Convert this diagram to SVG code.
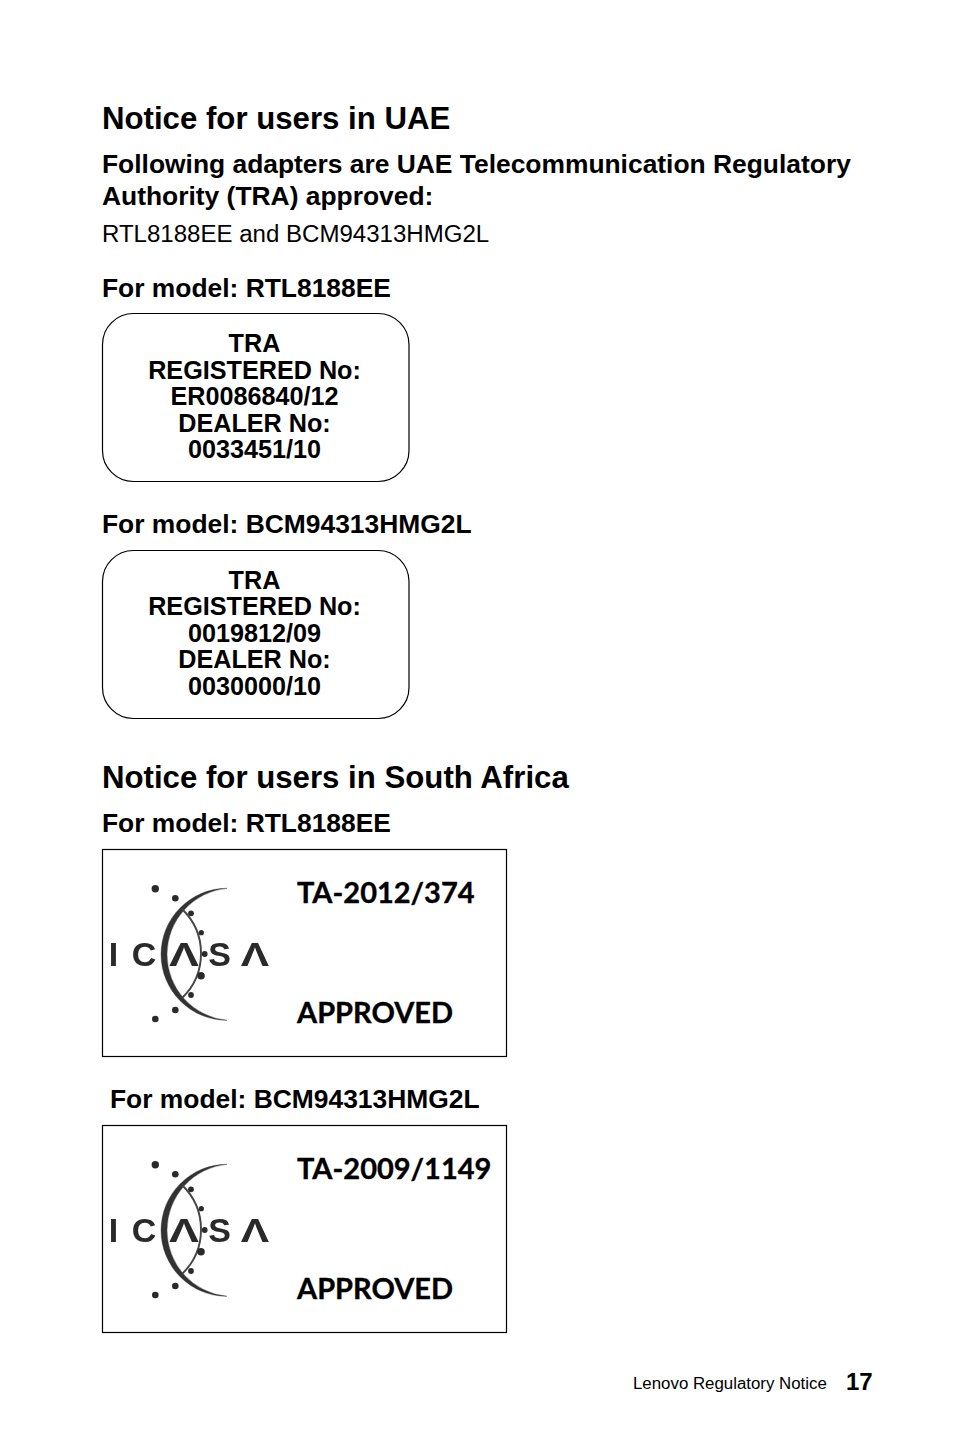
<svg xmlns="http://www.w3.org/2000/svg" width="954" height="1452" viewBox="0 0 954 1452">
<style>
text{font-family:"Liberation Sans",Arial,sans-serif;fill:#000}
.h1{font-size:31.2px;font-weight:700}
.h2{font-size:26.4px;font-weight:700}
.body{font-size:24.05px}
.lab{font-size:25.2px;font-weight:700;text-anchor:middle}
.card{fill:#fff;stroke:#000;stroke-width:1.2}
.ta{font-family:Lato,"Open Sans",sans-serif;font-size:29px;font-weight:700;stroke:#000;stroke-width:.35}
.logo{font-size:34px;font-weight:700;fill:#2b2b2b;text-anchor:middle}
.dot{fill:#2b2b2b}
.thin{fill:none;stroke:#444;stroke-width:1.9}
</style>
<defs>
<filter id="soft" x="-5%" y="-5%" width="110%" height="110%"><feGaussianBlur stdDeviation="0.45"/></filter>
<g id="icasa" filter="url(#soft)">
<text class="logo" x="113.500" y="115.500">I</text>
<text class="logo" x="144" y="115.500">C</text>
<text class="logo" transform="translate(184 115.500) scale(1.32 1)">Λ</text>
<text class="logo" x="219.500" y="115.500">S</text>
<text class="logo" transform="translate(255 115.500) scale(1.25 1)">Λ</text>
<path d="M227 38.300A66 66 0 0 0 227 170.300A66.300 66.300 0 0 1 227 38.300Z" fill="#333" stroke="#333" stroke-width=".4"/>
<path class="thin" d="M182 59A61.600 61.600 0 0 1 182 148"/>
<circle class="dot" cx="155.300" cy="38.700" r="3.700"/>
<circle class="dot" cx="175.300" cy="48.300" r="3.300"/>
<circle class="dot" cx="191" cy="63.300" r="2.900"/>
<circle class="dot" cx="201.300" cy="82.700" r="2.600"/>
<circle class="dot" cx="204.700" cy="104" r="2.900"/>
<circle class="dot" cx="201" cy="125.700" r="3.800"/>
<circle class="dot" cx="191" cy="145" r="2.900"/>
<circle class="dot" cx="175.300" cy="160" r="3.300"/>
<circle class="dot" cx="155.300" cy="169" r="3.300"/>
</g>
</defs>
<rect width="954" height="1452" fill="#fff"/>
<g id="uae-heading">
<text class="h1" x="102" y="129">Notice for users in UAE</text>
<text class="h2" x="102" y="173">Following adapters are UAE Telecommunication Regulatory</text>
<text class="h2" x="102" y="205">Authority (TRA) approved:</text>
<text class="body" x="102" y="242">RTL8188EE and BCM94313HMG2L</text>
</g>
<text class="h2" x="102" y="297">For model: RTL8188EE</text>
<g id="tra-rtl">
<rect class="card" x="102.500" y="313.500" width="306.500" height="168" rx="31"/>
<text class="lab" x="254.500" y="352">TRA</text>
<text class="lab" x="254.500" y="379">REGISTERED No:</text>
<text class="lab" x="254.500" y="405">ER0086840/12</text>
<text class="lab" x="254.500" y="432">DEALER No:</text>
<text class="lab" x="254.500" y="458">0033451/10</text>
</g>
<text class="h2" x="102" y="533">For model: BCM94313HMG2L</text>
<g id="tra-bcm">
<rect class="card" x="102.500" y="550.500" width="306.500" height="168" rx="31"/>
<text class="lab" x="254.500" y="589">TRA</text>
<text class="lab" x="254.500" y="615">REGISTERED No:</text>
<text class="lab" x="254.500" y="642">0019812/09</text>
<text class="lab" x="254.500" y="668">DEALER No:</text>
<text class="lab" x="254.500" y="695">0030000/10</text>
</g>
<text class="h1" x="102" y="788">Notice for users in South Africa</text>
<text class="h2" x="102" y="832">For model: RTL8188EE</text>
<g id="icasa-rtl">
<rect class="card" x="102.500" y="849.500" width="404" height="207"/>
<use href="#icasa" y="850"/>
<text class="ta" x="297" y="903">TA-2012/374</text>
<text class="ta" x="297" y="1023">APPROVED</text>
</g>
<text class="h2" x="110" y="1108">For model: BCM94313HMG2L</text>
<g id="icasa-bcm">
<rect class="card" x="102.500" y="1125.500" width="404" height="207"/>
<use href="#icasa" y="1126"/>
<text class="ta" x="297" y="1179">TA-2009/1149</text>
<text class="ta" x="297" y="1299">APPROVED</text>
</g>
<g id="footer">
<text x="633" y="1389" font-size="16.850">Lenovo Regulatory Notice</text>
<text x="846" y="1390" font-size="24" font-weight="700">17</text>
</g>
</svg>
